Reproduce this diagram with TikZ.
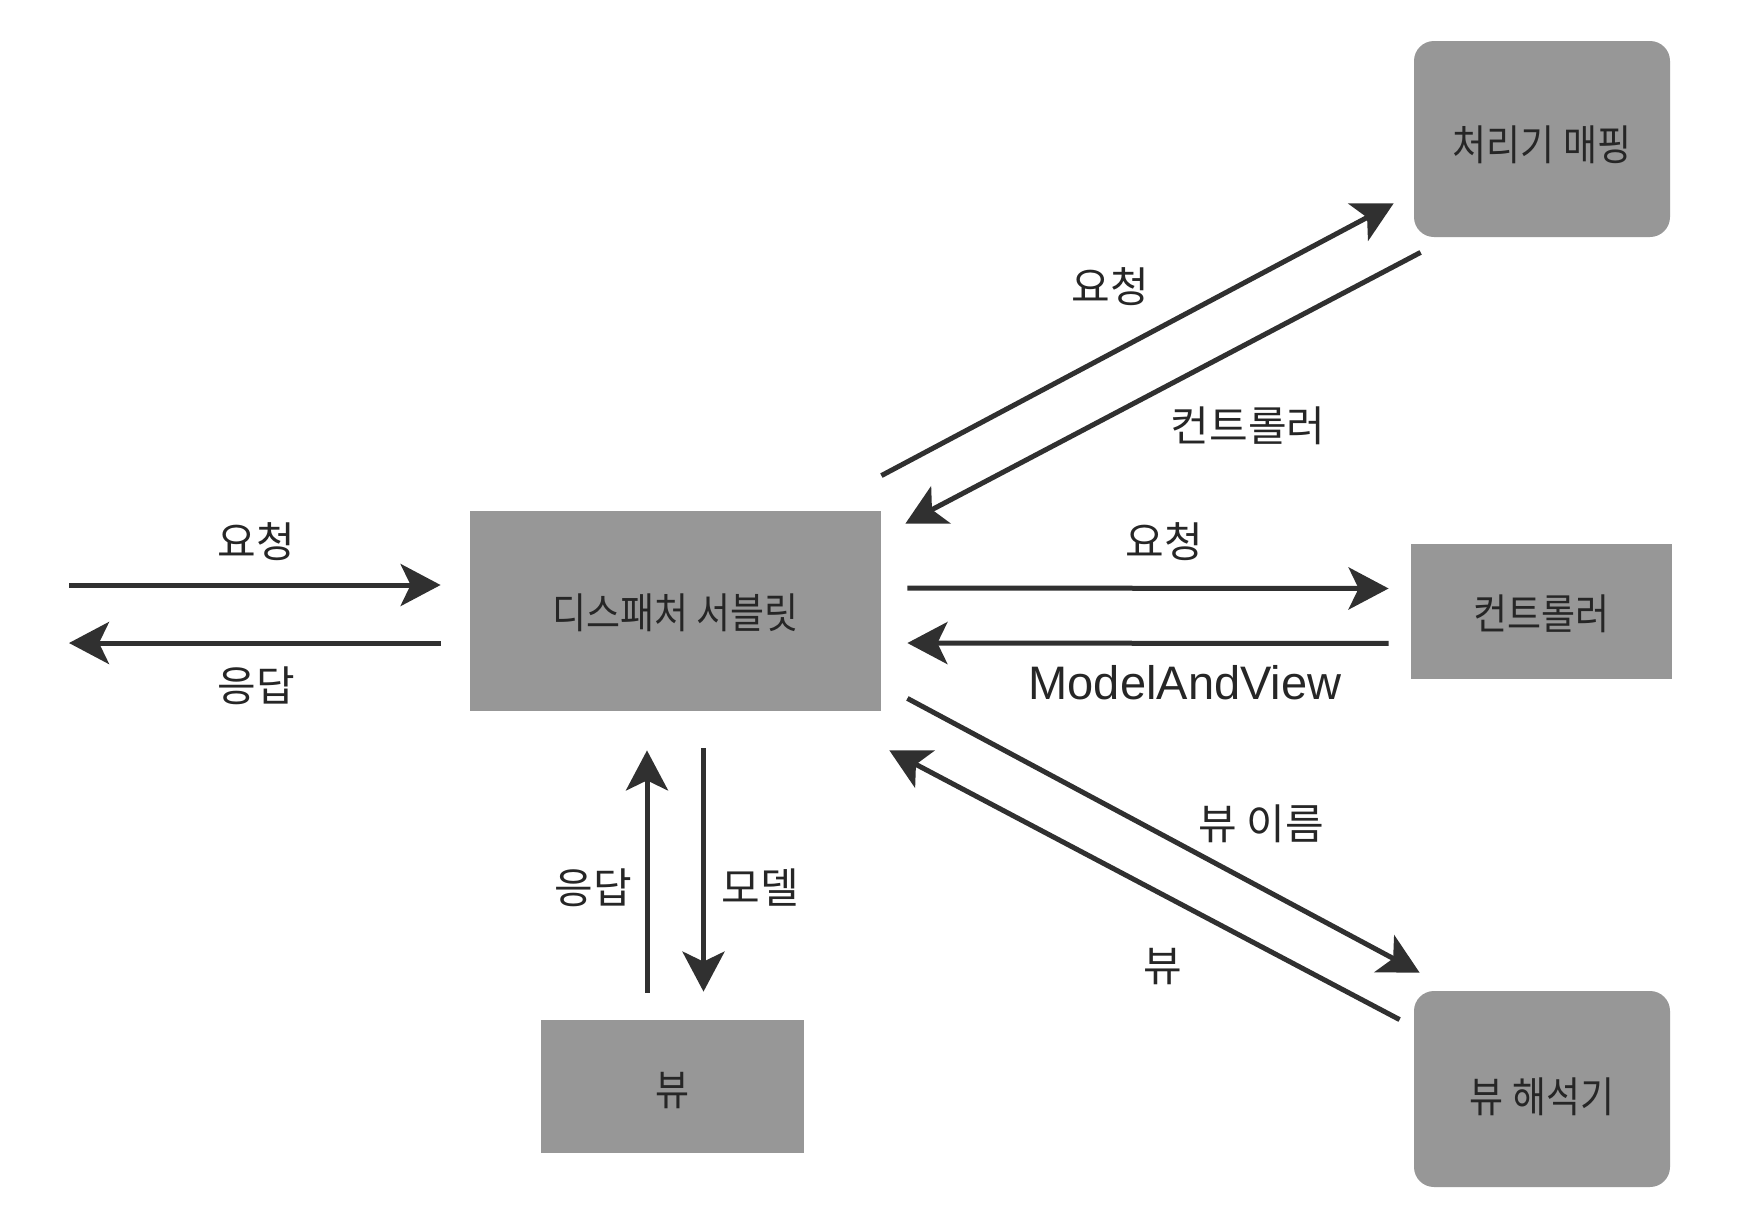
\documentclass[tikz,border=0pt]{standalone}
\usepackage{fontspec}
\setmainfont{Noto Sans CJK KR}
\newfontfamily\boxfont{Noto Sans CJK KR}[FakeStretch=0.88]
\newfontfamily\latinf{Liberation Sans}
\usetikzlibrary{arrows.meta,calc}
\definecolor{boxgray}{HTML}{979797}
\definecolor{arrgray}{HTML}{303030}
\definecolor{txtgray}{HTML}{262626}
\newcommand\boxtxt[2]{\raisebox{#1}[\height][\depth]{#2}}
\begin{document}
\begin{tikzpicture}[x=0.5pt,y=-0.5pt,
  box/.style={rectangle,fill=boxgray,inner sep=0pt,text=txtgray,
    font=\boxfont\fontsize{21pt}{25pt}\selectfont},
  rbox/.style={box,rounded corners=10pt},
  arr/.style={draw=arrgray,line width=2.5pt,
    -{Stealth[length=20pt,width=21pt,inset=5pt]}},
  lbl/.style={inner sep=0pt,text=txtgray,font=\fontsize{21pt}{25pt}\selectfont}]
\useasboundingbox[fill=white] (0,0) rectangle (1742,1228);

% boxes
\node[box,minimum width=205.5pt,minimum height=100pt] (ds) at (675.5,611) {\boxtxt{-1pt}{디스패처 서블릿}};
\node[rbox,minimum width=128pt,minimum height=98pt] (hm) at (1542,139) {\boxtxt{-3pt}{처리기 매핑}};
\node[box,minimum width=130.5pt,minimum height=67.5pt] (ctrl) at (1541.5,611.5) {\boxtxt{-1pt}{컨트롤러}};
\node[rbox,minimum width=128pt,minimum height=98pt] (vr) at (1542,1089) {\boxtxt{-4pt}{뷰 해석기}};
\node[box,minimum width=131.5pt,minimum height=66.5pt] (view) at (672.5,1086.5) {\boxtxt{-2pt}{뷰}};

% client side
\coordinate (inA) at (69,585);
\coordinate (outA) at (69,643);
\draw[arr,shorten >=14.5pt] (inA) -- (inA -| ds.west);
\draw[arr,shorten <=14.5pt] (outA -| ds.west) -- (outA);
\node[lbl] (l1) at (256,542) {요청};
\node[lbl] (l2) at (256,686) {응답};

% controller
\draw[arr,shorten <=13pt,shorten >=11pt] ([yshift=11.5pt]ds.east) -- ([yshift=11.5pt]ctrl.west);
\draw[arr,shorten <=11pt,shorten >=13pt] ([yshift=-16pt]ctrl.west) -- ([yshift=-16pt]ds.east);
\node[lbl] (l3) at (1164,542) {요청};
\node[lbl,font=\latinf\fontsize{23.5pt}{27pt}\selectfont] (l4) at (1185,683) {ModelAndView};

% handler mapping
\draw[arr] ([yshift=17.5pt]ds.north east) -- ([xshift=-10pt,yshift=17pt]hm.south west);
\draw[arr] ([xshift=3.5pt,yshift=-7.5pt]hm.south west) -- ([xshift=12pt,yshift=-6.5pt]ds.north east);
\node[lbl] (l5) at (1110,287) {요청};
\node[lbl] (l6) at (1248,426) {컨트롤러};

% view resolver
\draw[arr] ([xshift=13pt,yshift=6.5pt]ds.south east) -- ([xshift=3pt,yshift=9pt]vr.north west);
\draw[arr] ([xshift=-7pt,yshift=-14.5pt]vr.north west) -- ([xshift=4pt,yshift=-19.5pt]ds.south east);
\node[lbl] (l7) at (1261,824) {뷰 이름};
\node[lbl] (l8) at (1163,967) {뷰};

% view
\coordinate (rs0) at ([xshift=-12.75pt,yshift=13.5pt]view.north);
\coordinate (md0) at ([xshift=14pt,yshift=-18.5pt]ds.south);
\draw[arr,shorten >=19.5pt] (rs0) -- (rs0 |- ds.south);
\draw[arr,shorten >=14pt] (md0) -- (md0 |- view.north);
\node[lbl] (l9) at (593,888) {응답};
\node[lbl] (l10) at (760,888) {모델};
\end{tikzpicture}
\end{document}
